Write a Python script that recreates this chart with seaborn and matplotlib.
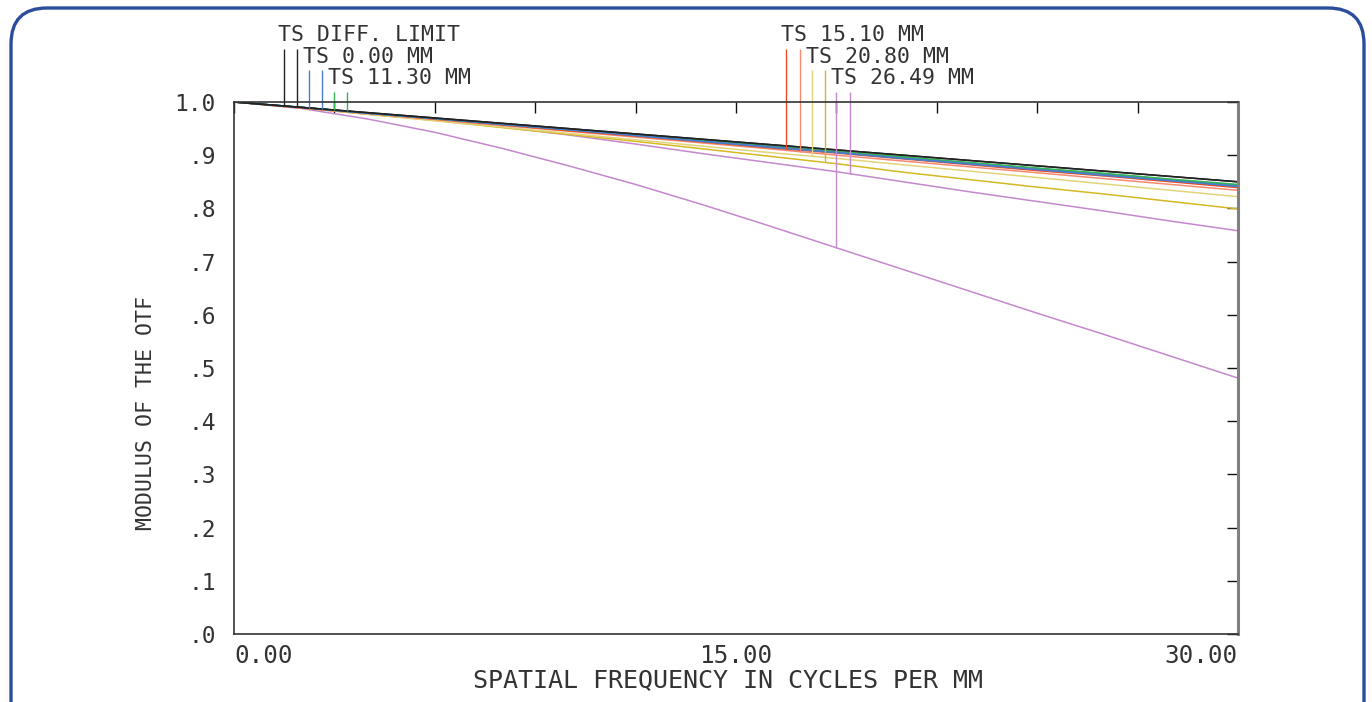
import numpy as np
import pandas as pd
import seaborn as sns
import matplotlib.pyplot as plt
from matplotlib.patches import FancyBboxPatch
from matplotlib.transforms import IdentityTransform

# spatial frequency samples (cycles/mm)
freq = [0, 2, 4, 6, 8, 10, 12, 14, 16, 18, 20, 22, 24, 26, 28, 30]

# MTF curves
diff_t = [1.000, 0.990, 0.980, 0.970, 0.960, 0.950, 0.940, 0.930, 0.920, 0.910, 0.900, 0.890, 0.880, 0.870, 0.860, 0.850]
diff_s = diff_t
f000_t = [1.000, 0.990, 0.979, 0.969, 0.958, 0.948, 0.937, 0.926, 0.916, 0.905, 0.894, 0.884, 0.873, 0.863, 0.852, 0.842]
f000_s = [1.000, 0.990, 0.979, 0.969, 0.958, 0.948, 0.937, 0.926, 0.915, 0.905, 0.894, 0.883, 0.873, 0.862, 0.852, 0.841]
f1130_t = [1.000, 0.990, 0.979, 0.969, 0.959, 0.948, 0.938, 0.928, 0.917, 0.907, 0.897, 0.886, 0.876, 0.866, 0.855, 0.845]
f1130_s = [1.000, 0.990, 0.979, 0.969, 0.958, 0.948, 0.938, 0.927, 0.917, 0.906, 0.896, 0.886, 0.875, 0.865, 0.854, 0.844]
f1510_t = [1.000, 0.989, 0.979, 0.968, 0.957, 0.946, 0.936, 0.925, 0.914, 0.904, 0.893, 0.882, 0.871, 0.861, 0.850, 0.839]
f1510_s = [1.000, 0.989, 0.978, 0.967, 0.956, 0.945, 0.934, 0.923, 0.912, 0.900, 0.889, 0.878, 0.867, 0.856, 0.845, 0.834]
f2080_t = [1.000, 0.989, 0.977, 0.965, 0.953, 0.941, 0.929, 0.917, 0.905, 0.894, 0.882, 0.870, 0.858, 0.846, 0.834, 0.822]
f2080_s = [1.000, 0.989, 0.977, 0.965, 0.952, 0.939, 0.926, 0.912, 0.898, 0.884, 0.868, 0.854, 0.840, 0.827, 0.813, 0.799]
f2649_t = [1.000, 0.988, 0.968, 0.943, 0.913, 0.880, 0.845, 0.807, 0.767, 0.726, 0.685, 0.644, 0.603, 0.563, 0.522, 0.481]
f2649_s = [1.000, 0.989, 0.977, 0.966, 0.953, 0.938, 0.921, 0.903, 0.886, 0.869, 0.850, 0.831, 0.813, 0.795, 0.776, 0.758]

labels = ['TS DIFF. LIMIT', 'TS 0.00 MM', 'TS 11.30 MM', 'TS 15.10 MM', 'TS 20.80 MM', 'TS 26.49 MM']
# frequency where each field's T / S marker is drawn
marker_freq = [(1.49, 1.88), (2.24, 2.63), (2.99, 3.38), (16.5, 16.9), (17.27, 17.66), (18.0, 18.4)]

curves = [(diff_t, diff_s), (f000_t, f000_s), (f1130_t, f1130_s),
          (f1510_t, f1510_s), (f2080_t, f2080_s), (f2649_t, f2649_s)]
colors = [('#222222', '#222222'), ('#4a7cc8', '#4a7cc8'), ('#33b455', '#33b455'),
          ('#f04a20', '#f58a70'), ('#e2d47a', '#d4b824'), ('#c488cc', '#c488cc')]

rows = []
palette = {}
for lab, (t, s), (ct, cs) in zip(labels, curves, colors):
    for kind, vals, c in (('T', t, ct), ('S', s, cs)):
        name = f'{lab} {kind}'
        palette[name] = c
        for x, y in zip(freq, vals):
            rows.append({'freq': x, 'mtf': y, 'series': name})
df = pd.DataFrame(rows)

sns.set_style('white')
plt.rcParams['font.family'] = ['DejaVu Sans Mono']

fig = plt.figure(figsize=(13.72, 7.02), dpi=100)
ax = fig.add_axes([234 / 1372, 1 - 634 / 702, 1004 / 1372, 532 / 702])

# draw the purple/yellow first so the bundle sits on top
order = list(palette.keys())[::-1]
sns.lineplot(data=df, x='freq', y='mtf', hue='series', hue_order=order,
             palette=palette, legend=False, estimator=None, lw=1.1, ax=ax)

ax.set_xlim(0, 30)
ax.set_ylim(0, 1)
ax.set_xlabel('')
ax.set_ylabel('')

txt = '#333333'

# marker lines and labels
row_top = [1.10, 1.06, 1.019, 1.10, 1.06, 1.019]
text_y = [1.126, 1.085, 1.045, 1.126, 1.085, 1.045]
text_x = [1.31, 2.06, 2.81, 16.34, 17.09, 17.84]
for i, lab in enumerate(labels):
    t, s = curves[i]
    for j, vals in enumerate((t, s)):
        xm = marker_freq[i][j]
        ym = np.interp(xm, freq, vals)
        ax.vlines(xm, ym, row_top[i], color=colors[i][j], lw=1.0, clip_on=False)
    ax.text(text_x[i], text_y[i], lab, ha='left', va='center', fontsize=15.5,
            color=txt, clip_on=False)

ax.set_xticks(np.arange(0, 31, 3))
ax.set_xticklabels(['0.00', '', '', '', '', '15.00', '', '', '', '', '30.00'])
xl = ax.get_xticklabels()
xl[0].set_ha('left')
xl[-1].set_ha('right')
ax.set_yticks(np.arange(0, 1.01, 0.1))
ax.set_yticklabels(['.0', '.1', '.2', '.3', '.4', '.5', '.6', '.7', '.8', '.9', '1.0'])
ax.tick_params(axis='both', direction='in', length=8, width=1.0, color='#111111',
               top=True, right=True, labelcolor=txt)
ax.tick_params(axis='y', pad=13, labelsize=16.5)
ax.tick_params(axis='x', pad=7, labelsize=17.5)
for side in ['left', 'bottom', 'top']:
    ax.spines[side].set_color('#333333')
    ax.spines[side].set_linewidth(1.2)
ax.spines['right'].set_color('#808080')
ax.spines['right'].set_linewidth(2.2)

fig.text(728 / 1372, 1 - 680 / 702, 'SPATIAL FREQUENCY IN CYCLES PER MM',
         ha='center', va='center', fontsize=18, color=txt)
fig.text(146 / 1372, 1 - 413 / 702, 'MODULUS OF THE OTF', rotation=90,
         ha='center', va='center', fontsize=15.5, color=txt)

# rounded blue frame (bottom runs off the image)
frame = FancyBboxPatch((11, -60), 1353, 702 - 8 + 60,
                       boxstyle='round,pad=0,rounding_size=36',
                       transform=IdentityTransform(), fill=False,
                       edgecolor='#2c4c9c', lw=2.4)
fig.patches.append(frame)

fig.savefig('out.png', dpi=100)
